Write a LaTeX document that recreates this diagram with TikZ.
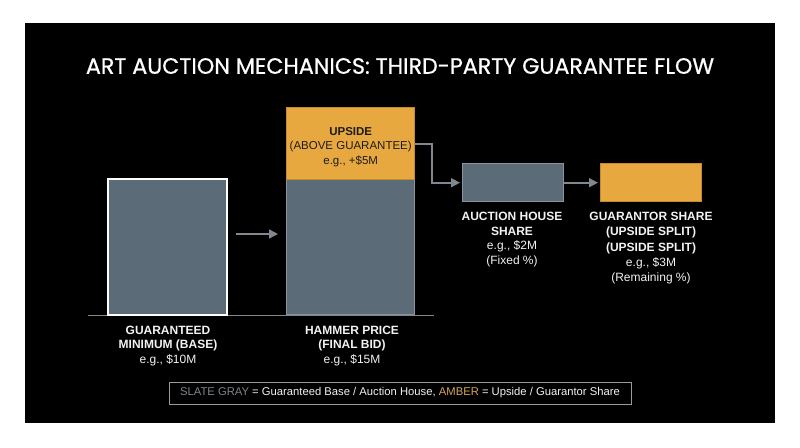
\documentclass[tikz,border=0pt]{standalone}
\usepackage{fontspec}
\setmainfont{Liberation Sans}
\newfontfamily\titlefont{Poppins}[FakeBold=0.7]
\usetikzlibrary{arrows.meta,positioning}
\definecolor{slate}{HTML}{5C6B78}
\definecolor{amber}{HTML}{E8A840}
\definecolor{amberdark}{HTML}{C48C2E}
\definecolor{boxgray}{HTML}{8A939B}
\definecolor{arrowgray}{HTML}{80878E}
\definecolor{legendgray}{HTML}{9A9A9A}
\definecolor{slatetext}{HTML}{7E858C}
\definecolor{ambertext}{HTML}{D9A45A}
\definecolor{labelwhite}{HTML}{F2F2F2}
\definecolor{darktext}{HTML}{1C1C1C}
\tikzset{
  bar/.style={draw, inner sep=0pt, anchor=north west},
  lbl/.style={text=labelwhite, align=center, font=\fontsize{12}{14.5}\selectfont, inner sep=0pt, anchor=north},
  flow/.style={draw=arrowgray, line width=1.6pt, -{Triangle[length=9pt,width=9pt]}},
}
\begin{document}
\begin{tikzpicture}[x=1pt,y=-1pt]
\useasboundingbox (0,0) rectangle (800,447);
\fill[white] (0,0) rectangle (800,447);
\fill[black] (25,23) rectangle (775,423);
% title
\node (title) at (400,66) {\titlefont\fontsize{22.2}{26}\selectfont\color{white}ART AUCTION MECHANICS: THIRD-PARTY GUARANTEE FLOW};
% baseline
\coordinate (bl1) at (88,315);
\coordinate (bl2) at (434,315);
\draw[draw=arrowgray, line width=1pt] (bl1) -- (bl2);
% base bar
\node[bar, draw=white, fill=slate, line width=2pt, minimum width=119pt, minimum height=136pt] (base) at (107,178) {};
% hammer bar
\node[bar, draw=boxgray, fill=slate, line width=1.4pt, minimum width=128pt, minimum height=135pt] (hammer) at (286,179) {};
\node[bar, draw=amberdark, fill=amber, line width=1.4pt, minimum width=128pt, minimum height=72pt] (upside) at (286,107) {};
\node[text=darktext, align=center, font=\fontsize{11.5}{14.5}\selectfont, inner sep=0pt] (upsidetxt) at ([yshift=-3pt]upside.center) {\textbf{UPSIDE}\\(ABOVE GUARANTEE)\\e.g., +\$5M};
% share boxes
\node[bar, draw=boxgray, fill=slate, line width=1.4pt, minimum width=101pt, minimum height=38pt] (ah) at (462,163) {};
\node[bar, draw=amberdark, fill=amber, line width=1.4pt, minimum width=101pt, minimum height=38pt] (gs) at (600,163) {};
% arrows
\coordinate (a1s) at (236,234);
\coordinate (a1e) at (278,234);
\draw[flow] (a1s) -- (a1e);
\draw[flow, shorten >=2pt] (upside.east |- 0,144) -- (432,144) |- (ah.west);
\draw[flow, shorten >=2pt] (ah.east) -- (gs.west);
% labels
\node[lbl] (baselbl) at (168,325.5) {\textbf{GUARANTEED}\\\textbf{MINIMUM (BASE)}\\e.g., \$10M};
\node[lbl] (hammerlbl) at (352,325.5) {\textbf{HAMMER PRICE}\\\textbf{(FINAL BID)}\\e.g., \$15M};
\node[lbl] (ahlbl) at (512,212) {\textbf{AUCTION HOUSE}\\\textbf{SHARE}\\e.g., \$2M\\(Fixed \%)};
\node[lbl, font=\fontsize{12}{15.3}\selectfont] (gslbl) at (651,212) {\textbf{GUARANTOR SHARE}\\\textbf{(UPSIDE SPLIT)}\\\textbf{(UPSIDE SPLIT)}\\e.g., \$3M\\(Remaining \%)};
% legend
\node[draw=legendgray, line width=1pt, minimum width=462pt, minimum height=22pt, inner sep=0pt, text=labelwhite, font=\fontsize{11.25}{13}\selectfont] (legend) at (400,393) {\textcolor{slatetext}{SLATE GRAY} = Guaranteed Base / Auction House, \textcolor{ambertext}{AMBER} = Upside / Guarantor Share};
\end{tikzpicture}
\end{document}
